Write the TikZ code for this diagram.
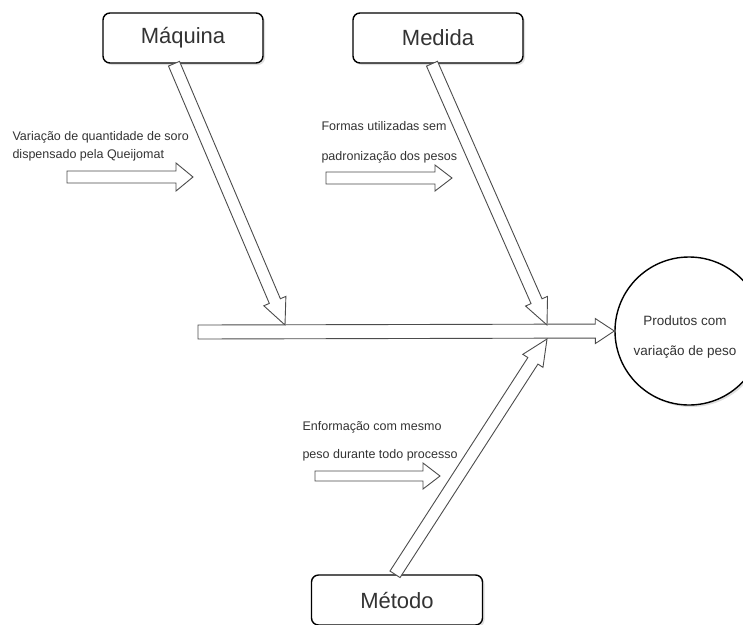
\documentclass[tikz,border=0pt]{standalone}
\usepackage{fontspec}
\setmainfont{Liberation Sans}
\usetikzlibrary{calc,shadows}
\definecolor{ink}{HTML}{333333}

% hollow block arrow: tail, tip, half shaft, half head, head length
\newcommand{\hollowarrow}[5]{%
  \coordinate (ah) at ($(#2)!#5!(#1)$);
  \draw[hollow] ($(#1)!#3!90:(#2)$) -- ($(ah)!#3!90:(#2)$) -- ($(ah)!#4!90:(#2)$)
    -- (#2) -- ($(ah)!#4!-90:(#2)$) -- ($(ah)!#3!-90:(#2)$) -- ($(#1)!#3!-90:(#2)$) -- cycle;}

\begin{document}
\begin{tikzpicture}[x=1pt,y=-1pt,
  cause/.style={draw,rounded corners=7pt,line width=1.4pt,minimum width=160pt,minimum height=50pt,
    fill=white,drop shadow={shadow xshift=2pt,shadow yshift=-2pt,opacity=.25},
    text=ink,font=\fontsize{22}{26}\selectfont},
  hollow/.style={draw=black!70,fill=white,line width=.9pt,line join=miter},
  note/.style={anchor=west,align=left,text=ink,font=\fontsize{12.5}{18}\selectfont}]
\useasboundingbox (0,0) rectangle (743,624);

\node[cause] (maquina) at (183,38) {Máquina};
\node[cause,minimum width=170pt] (medida) at (438,38) {Medida};
\node[cause,minimum width=171pt] (metodo) at (397,600) {Método};
\node[circle,draw,line width=1.4pt,minimum size=148pt,fill=white,
  drop shadow={shadow xshift=2pt,shadow yshift=-2pt,opacity=.25}] (efeito) at (689,331) {};
\node[align=center,text=ink,font=\fontsize{13.5}{30}\selectfont] (efeitotxt)
  at ($(efeito)+(-4,6)$) {Produtos com\\variação de peso};

% spine and bones
\coordinate (spine) at (198,332);
\coordinate (c1) at (285,325);
\coordinate (c2) at (547,325);
\coordinate (c3) at (547,339);
\hollowarrow{spine}{efeito.west}{7pt}{12.5pt}{19pt}
\hollowarrow{$(maquina.south)+(-9,0)$}{c1}{6pt}{12pt}{26pt}
\hollowarrow{$(medida.south)+(-6,0)$}{c2}{6pt}{12pt}{26pt}
\hollowarrow{$(metodo.north)+(-2,0)$}{c3}{6pt}{12pt}{26pt}

% sub causes
\node[note] (n1) at (9,146) {Variação de quantidade de soro\\dispensado pela Queijomat};
\node[note] (n2) at (318,142) {Formas utilizadas sem\\[12pt]padronização dos pesos};
\node[note] (n3) at (299,441) {Enformação com mesmo\\[10pt]peso durante todo processo};
\coordinate (a1) at (67,177);   \coordinate (b1) at (193,177);
\coordinate (a2) at (326,178);  \coordinate (b2) at (452,178);
\coordinate (a3) at (315,476);  \coordinate (b3) at (440,476);
\hollowarrow{a1}{b1}{6pt}{14pt}{17pt}
\hollowarrow{a2}{b2}{6pt}{13pt}{17pt}
\hollowarrow{a3}{b3}{5pt}{13pt}{17pt}
\end{tikzpicture}
\end{document}
